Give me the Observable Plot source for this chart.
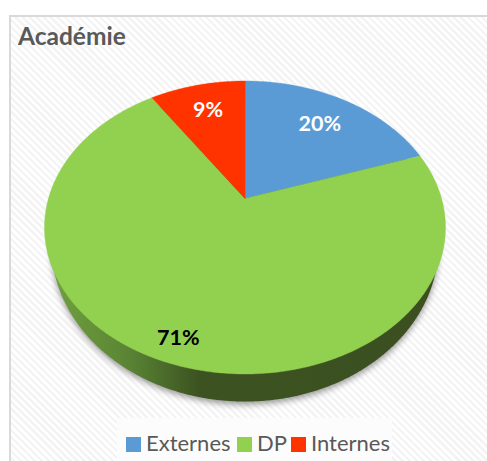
<!DOCTYPE html>
<html lang="fr">
<head>
<meta charset="utf-8">
<script src="https://cdn.jsdelivr.net/npm/d3@7"></script>
<script src="https://cdn.jsdelivr.net/npm/@observablehq/plot@0.6"></script>
<style>
  html, body { margin: 0; padding: 0; background: #fff; overflow: hidden; }
  #frame { position: relative; width: 487px; height: 461px; overflow: hidden; font-family: Lato, "Open Sans", sans-serif; }
  #panel { position: absolute; left: 9px; top: 15px; width: 520px; height: 500px; box-sizing: border-box;
    border: 2px solid #d9d9d9;
    background: repeating-linear-gradient(45deg, #fff 0, #fff 2.5px, #f4f4f4 2.5px, #f4f4f4 5px); }
  #title { position: absolute; left: 18px; top: 20px; font-size: 24.5px; line-height: 32px; font-weight: 700; color: #595959; }
  #chart { position: absolute; left: 0; top: 0; }
  #chart svg { display: block; background: transparent; }
  #legend { position: absolute; left: 117px; top: 418px; width: 275px; height: 43px; background: #fcfcfc; color: #595959;
    font-size: 22px; line-height: 24px; }
  #legend span.sw { position: absolute; top: 19px; width: 15px; height: 15px; }
  #legend span.lb { position: absolute; top: 13px; white-space: nowrap; }
</style>
</head>
<body>
<div id="frame">
  <div id="panel"></div>
  <div id="chart"></div>
  <div id="title">Académie</div>
  <div id="legend"></div>
</div>
<script>
const categories = ["Externes", "DP", "Internes"];
const percents = [19.8, 70.9, 9.3];
const colors = ["#5b9bd5", "#92d050", "#ff3300"];
const labelColors = ["#fff", "#000", "#fff"];
const labelReach = [0.73, 0.875, 0.745];

// Perspective of the tilted disc: the apex sits above the centre of the ellipse.
const tilt = -0.198;
const project = (a, r) => {
  const px = r * Math.sin(a), py = -r * Math.cos(a);
  const d = 1 + tilt * py;
  return [px * Math.sqrt(1 - tilt * tilt) / d, (py + tilt) / d];
};

const total = d3.sum(percents);
let acc = 0;
const slices = categories.map((name, i) => {
  const a0 = acc / total * 2 * Math.PI;
  acc += percents[i];
  return {name, a0, a1: acc / total * 2 * Math.PI, pct: percents[i], i};
});

const slicePoints = slices.flatMap(s => {
  const n = Math.ceil((s.a1 - s.a0) / 0.01);
  const arc = d3.range(n + 1).map(k => project(s.a0 + (s.a1 - s.a0) * k / n, 1));
  return [project(0, 0), ...arc].map(([x, y]) => ({name: s.name, x, y}));
});

const labels = slices.map(s => {
  const [x, y] = project((s.a0 + s.a1) / 2, labelReach[s.i]);
  return {x, y, text: Math.round(s.pct) + "%", color: labelColors[s.i]};
});

// Side wall of the disc
const rim = (dy) => d3.range(0, 2 * Math.PI, 0.01).map(a => ({
  x: 0.965 * Math.sin(a), y: 0.123 + dy + 1.065 * Math.cos(a)
}));

const chart = Plot.plot({
  width: 487, height: 461,
  margin: 0,
  x: {domain: [-1, 1], range: [44, 445], axis: null},
  y: {domain: [-1, 1], range: [80.5, 373.5], axis: null},
  color: {domain: categories, range: colors},
  marks: [
    Plot.line(rim(0.02), {x: "x", y: "y", fill: "#555", stroke: "none", curve: "linear-closed", fillOpacity: 0.6, imageFilter: "blur(3px)"}),
    Plot.line(rim(0), {x: "x", y: "y", fill: "url(#sideFill)", stroke: "none", curve: "linear-closed"}),
    Plot.line(slicePoints, {x: "x", y: "y", z: "name", fill: "name", stroke: "name", strokeWidth: 0.4, curve: "linear-closed"}),
    Plot.text(labels, {x: "x", y: "y", text: "text", fill: "color", fontSize: 21.5, fontWeight: 700, fontFamily: "Lato, 'Open Sans', sans-serif"})
  ]
});

const defs = d3.select(chart).insert("defs", ":first-child");
const grad = defs.append("linearGradient").attr("id", "sideFill").attr("x1", 0).attr("x2", 1).attr("y1", 0).attr("y2", 0);
[[0, "#70a03f"], [0.2, "#5a8434"], [0.38, "#3c5321"], [1, "#3b4f20"]].forEach(([o, c]) =>
  grad.append("stop").attr("offset", o).attr("stop-color", c));

document.getElementById("chart").append(chart);

const legend = d3.select("#legend");
const swatchX = [9, 120, 174];
categories.forEach((name, i) => {
  legend.append("span").attr("class", "sw").style("left", swatchX[i] + "px").style("background", colors[i]);
  legend.append("span").attr("class", "lb").style("left", (swatchX[i] + 20) + "px").text(name);
});
</script>
</body>
</html>
